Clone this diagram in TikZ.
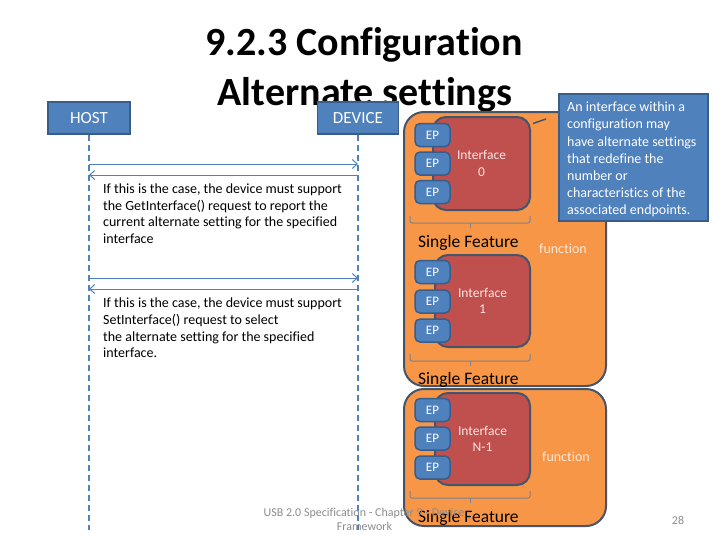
\documentclass[tikz,border=0pt]{standalone}
\usepackage{fontspec}
\setmainfont{Carlito}[Ligatures={NoCommon}]
\usetikzlibrary{arrows.meta}
\definecolor{bluef}{HTML}{4F81BD}
\definecolor{blued}{HTML}{385D8A}
\definecolor{orangef}{HTML}{F79646}
\definecolor{redf}{HTML}{C0504D}
\definecolor{outl}{HTML}{46546A}
\definecolor{bracec}{HTML}{7A8495}
\definecolor{footg}{HTML}{8C8C8C}
\definecolor{pale}{HTML}{FDEADA}
\definecolor{palered}{HTML}{F8E4E3}
\begin{document}
\begin{tikzpicture}[x=1pt,y=-1pt,
  titletext/.style={font=\fontsize{40}{48}\selectfont\bfseries,inner sep=0pt},
  bluebox/.style={draw=blued,fill=bluef,line width=1.5pt,text=white,inner sep=0pt},
  lifeline/.style={draw=bluef,line width=2pt,dash pattern=on 6pt off 4pt},
  msg/.style={draw=bluef,line width=1pt,-{Straight Barb[length=5pt,width=9pt,line width=1pt]}},
  bodytext/.style={font=\fontsize{14}{17}\selectfont,anchor=base west,inner sep=0pt},
  orangebox/.style={draw=outl,fill=orangef,line width=2pt,rounded corners=20pt,inner sep=0pt},
  redbox/.style={draw=outl,fill=redf,line width=2pt,rounded corners=13pt,inner sep=0pt,
     text=palered,align=center,font=\fontsize{13.5}{16.5}\selectfont,minimum width=95pt,minimum height=92pt},
  epbox/.style={draw=blued,fill=bluef,line width=1.5pt,rounded corners=5pt,inner sep=0pt,
     text=white,font=\fontsize{13}{15}\selectfont,minimum width=35pt,minimum height=23pt},
  bracepath/.style={draw=bracec,line width=1pt,rounded corners=2pt},
  sftext/.style={font=\fontsize{17.5}{20}\selectfont,anchor=base west,inner sep=0pt},
  functext/.style={font=\fontsize{14}{17}\selectfont,text=pale,anchor=base,inner sep=0pt},
  calltext/.style={font=\fontsize{14}{17}\selectfont,text=white,anchor=base west,inner sep=0pt},
  foottext/.style={font=\fontsize{12}{14}\selectfont,text=footg,anchor=base,inner sep=0pt}
]
\useasboundingbox (0,0) rectangle (728,546);
\fill[white] (0,0) rectangle (728,546);

% title
\node[titletext,anchor=base] (title1) at (364,55) {9.2.3 Configuration};
\node[titletext,anchor=base] (title2) at (365,105) {Alternate settings};

% host / device
\node[bluebox,minimum width=82pt,minimum height=32pt,font=\fontsize{17}{20}\selectfont] (host) at (89,118) {HOST};
\node[bluebox,minimum width=81pt,minimum height=32pt,font=\fontsize{17}{20}\selectfont] (device) at (358,118) {DEVICE};

\coordinate (hostend) at (89,530);
\coordinate (devend) at (358,530);
\draw[lifeline] (host.south) -- (hostend);
\draw[lifeline] (device.south) -- (devend);

% messages
\coordinate (h1) at (89,164); \coordinate (d1) at (358,164);
\coordinate (h2) at (89,175); \coordinate (d2) at (358,175);
\coordinate (h3) at (89,278); \coordinate (d3) at (358,278);
\coordinate (h4) at (89,289); \coordinate (d4) at (358,289);
\draw[msg] (h1) -- (d1);
\draw[msg] (d2) -- (h2);
\draw[msg] (h3) -- (d3);
\draw[msg] (d4) -- (h4);

% texts
\node[bodytext] (ta1) at (103,193.5) {If this is the case, the device must support};
\node[bodytext] (ta2) at (103,210) {the GetInterface() request to report the};
\node[bodytext] (ta3) at (103,226.5) {current alternate setting for the specified};
\node[bodytext] (ta4) at (103,243) {interface};
\node[bodytext] (tb1) at (103,307.5) {If this is the case, the device must support};
\node[bodytext] (tb2) at (103,324) {SetInterface() request to select};
\node[bodytext] (tb3) at (103,341) {the alternate setting for the specified};
\node[bodytext] (tb4) at (103,357.5) {interface.};

% orange function boxes
\node[orangebox,minimum width=202pt,minimum height=274pt] (func1) at (505,249) {};
\node[orangebox,minimum width=202pt,minimum height=137pt] (func2) at (505,457.5) {};

% interfaces
\node[redbox,minimum width=97pt,minimum height=93pt] (if0) at (481.5,163.5) {Interface\\0};
\node[redbox] (if1) at (482.5,301) {Interface\\1};
\node[redbox] (if2) at (482.5,439) {Interface\\N-1};

% endpoints
\node[epbox] (ep01) at (432.5,135) {EP};
\node[epbox] (ep02) at (432.5,163.5) {EP};
\node[epbox] (ep03) at (432.5,192) {EP};
\node[epbox] (ep11) at (432.5,272) {EP};
\node[epbox] (ep12) at (432.5,301.5) {EP};
\node[epbox] (ep13) at (432.5,330.5) {EP};
\node[epbox] (ep21) at (432.5,410) {EP};
\node[epbox] (ep22) at (432.5,438.5) {EP};
\node[epbox] (ep23) at (432.5,467.5) {EP};

% braces
\draw[bracepath] (410,216) -- (410,223) -- (530,223) -- (530,216);
\draw[bracec,line width=1pt] (470,223) -- (470,228);
\draw[bracepath] (410,354) -- (410,361) -- (530,361) -- (530,354);
\draw[bracec,line width=1pt] (470,361) -- (470,366);
\draw[bracepath] (410,491) -- (410,498) -- (530,498) -- (530,491);
\draw[bracec,line width=1pt] (470,498) -- (470,503);

% labels
\node[sftext] (sf1) at (418,247) {Single Feature};
\node[sftext] (sf2) at (418,384) {Single Feature};
\node[sftext] (sf3) at (418,522) {Single Feature};
\node[functext] (fn1) at (563,253) {function};
\node[functext] (fn2) at (566,461) {function};

% callout
\node[bluebox,minimum width=149pt,minimum height=127pt] (callout) at (633.5,157.5) {};
\node[calltext] (c1) at (567,111.5) {An interface within a};
\node[calltext] (c2) at (567,128.5) {configuration may};
\node[calltext] (c3) at (567,146) {have alternate settings};
\node[calltext] (c4) at (567,163) {that redefine the};
\node[calltext] (c5) at (567,180) {number or};
\node[calltext] (c6) at (567,197) {characteristics of the};
\node[calltext] (c7) at (567,214) {associated endpoints.};
\coordinate (ptrA) at (533,123.5);
\coordinate (ptrB) at (546,119);
\draw[outl,line width=1.5pt] (ptrA) -- (ptrB);

% footer
\node[foottext] (foot1) at (364,516.5) {USB 2.0 Specification - Chapter 9 - Device};
\node[foottext] (foot2) at (364.5,530.5) {Framework};
\node[foottext] (page) at (678,524) {28};
\end{tikzpicture}
\end{document}
